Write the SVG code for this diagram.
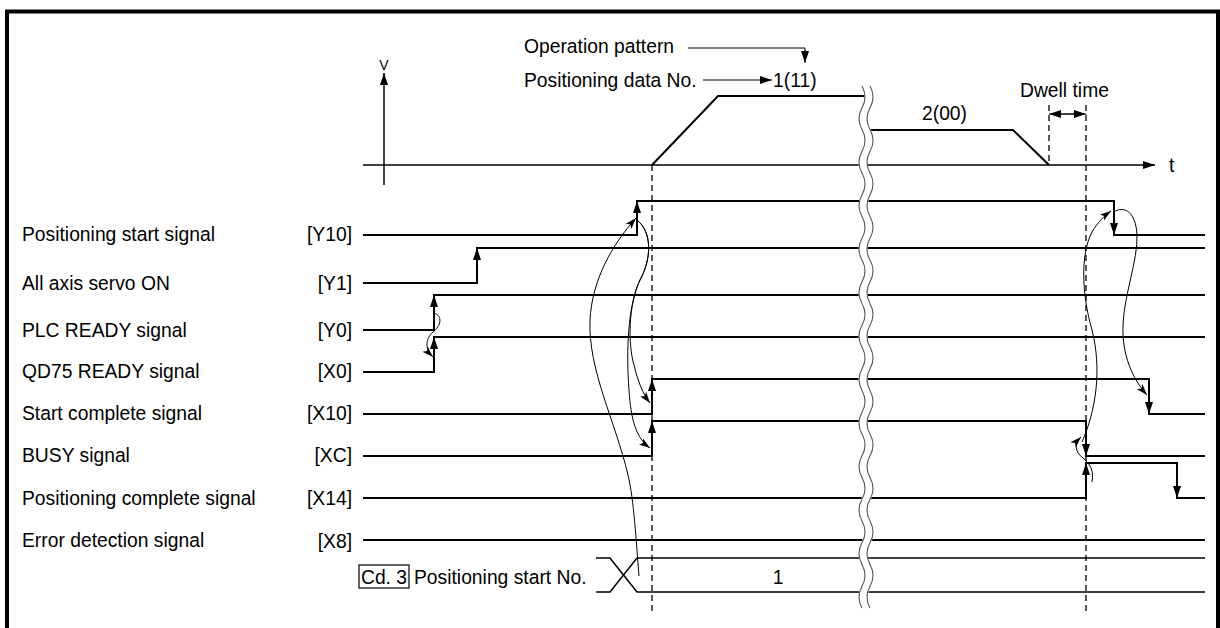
<svg xmlns="http://www.w3.org/2000/svg" width="1220" height="628" viewBox="0 0 1220 628">
<style>
text{font-family:"Liberation Sans",Arial,sans-serif;font-size:19.3px;fill:#000}
.sig{fill:none;stroke:#000;stroke-width:2}
.edge{fill:none;stroke:#000;stroke-width:2;marker-end:url(#ah)}
.thin{fill:none;stroke:#000;stroke-width:1}
.cur{fill:none;stroke:#000;stroke-width:1;marker-end:url(#ah2)}
.dash{fill:none;stroke:#000;stroke-width:1.3;stroke-dasharray:6 4}
.wave{fill:none;stroke:#555;stroke-width:1.1}
</style>
<defs>
<marker id="ah" viewBox="0 0 12 8" refX="12" refY="4" markerWidth="12" markerHeight="8" markerUnits="userSpaceOnUse" orient="auto"><path d="M0,0 L12,4 L0,8 Z" fill="#000"/></marker>
<marker id="ah2" viewBox="0 0 12 8" refX="12" refY="4" markerWidth="12" markerHeight="7.5" markerUnits="userSpaceOnUse" orient="auto"><path d="M0,0 L12,4 L0,8 L3,4 Z" fill="#000"/></marker>
</defs>
<rect width="1220" height="628" fill="#fff"/>
<g id="frame"><rect x="7" y="11.5" width="1211" height="630" fill="none" stroke="#000" stroke-width="4"/></g>

<g id="velocity-graph">
<path class="edge" style="stroke-width:1.5" d="M384,185 V73"/>
<text x="384" y="70" text-anchor="middle" style="font-size:14px">V</text>
<path class="edge" style="stroke-width:1.5" d="M363,165 H1155"/>
<text x="1169" y="172">t</text>
<path class="sig" d="M652,165 L718,96 H866"/>
<path class="sig" d="M866,130 H1013 L1049,165"/>
<text x="524" y="53">Operation pattern</text>
<path class="thin" d="M688,48 H805 V52"/>
<path class="edge" style="stroke-width:1" d="M805,50 V63"/>
<text x="524" y="87">Positioning data No.</text>
<path class="edge" style="stroke-width:1" d="M703,80 H772"/>
<text x="773" y="87">1(11)</text>
<text x="922" y="120">2(00)</text>
<text x="1020" y="97">Dwell time</text>
<path class="dash" d="M1049,105 V165"/>
<path class="thin" d="M1060,114 H1075"/>
<path class="edge" style="stroke-width:1" d="M1067,114 H1049"/>
<path class="edge" style="stroke-width:1" d="M1067,114 H1086"/>
</g>

<g id="dashes">
<path class="dash" d="M652,165 V612"/>
<path class="dash" d="M1086,105 V612"/>
</g>

<g id="sig-Y10">
<text x="22" y="241">Positioning start signal</text>
<text x="352" y="241" text-anchor="end">[Y10]</text>
<path class="sig" d="M363,235 H637 V201 H1114 V235 H1205"/>
<path class="edge" d="M637,225 V201"/>
<path class="edge" d="M1114,211 V235"/>
</g>
<g id="sig-Y1">
<text x="22" y="290">All axis servo ON</text>
<text x="352" y="290" text-anchor="end">[Y1]</text>
<path class="sig" d="M363,283 H477 V248 H1205"/>
<path class="edge" d="M477,272 V248"/>
</g>
<g id="sig-Y0">
<text x="22" y="337">PLC READY signal</text>
<text x="352" y="337" text-anchor="end">[Y0]</text>
<path class="sig" d="M363,330 H434 V295 H1205"/>
<path class="edge" d="M434,319 V295"/>
</g>
<g id="sig-X0">
<text x="22" y="378">QD75 READY signal</text>
<text x="352" y="378" text-anchor="end">[X0]</text>
<path class="sig" d="M363,372 H434 V337 H1205"/>
<path class="edge" d="M434,361 V337"/>
</g>
<g id="sig-X10">
<text x="22" y="420">Start complete signal</text>
<text x="352" y="420" text-anchor="end">[X10]</text>
<path class="sig" d="M363,414 H652 V379 H1149 V414 H1205"/>
<path class="edge" d="M652,403 V379"/>
<path class="edge" d="M1149,390 V414"/>
</g>
<g id="sig-XC">
<text x="22" y="462">BUSY signal</text>
<text x="352" y="462" text-anchor="end">[XC]</text>
<path class="sig" d="M363,456 H652 V421 H1086 V456 H1205"/>
<path class="edge" d="M652,445 V421"/>
<path class="edge" d="M1086,432 V456"/>
</g>
<g id="sig-X14">
<text x="22" y="505">Positioning complete signal</text>
<text x="352" y="505" text-anchor="end">[X14]</text>
<path class="sig" d="M363,498 H1086 V463 H1177 V498 H1205"/>
<path class="edge" d="M1086,487 V463"/>
<path class="edge" d="M1177,474 V498"/>
</g>
<g id="sig-X8">
<text x="22" y="547">Error detection signal</text>
<text x="352" y="548" text-anchor="end">[X8]</text>
<path class="sig" d="M363,540 H1205"/>
</g>
<g id="sig-Cd3">
<rect x="359" y="565" width="50" height="23" fill="none" stroke="#000" stroke-width="1.2"/>
<text x="384" y="584" text-anchor="middle">Cd. 3</text>
<text x="414" y="584">Positioning start No.</text>
<path class="thin" style="stroke-width:1.5" d="M596,558 H610 L637,592 H1205"/>
<path class="thin" style="stroke-width:1.5" d="M596,592 H610 L637,558 H1205"/>
<text x="778" y="584" text-anchor="middle">1</text>
</g>

<g id="connectors">
<path class="cur" d="M434,313 C443,316 441,326 433,332 C426,338 424,348 433,357"/>
<path class="cur" d="M639,576 C636,540 634,500 628,475 C615,420 588,370 590,320 C592,280 612,245 636,218"/>
<path class="cur" d="M637,220 C652,232 652,258 640,280 C628,305 628,345 634,365 C638,382 643,394 650,403"/>
<path class="cur" d="M637,220 C652,232 652,258 640,280 C628,305 626,350 629,390 C631,420 636,438 650,448"/>
<path class="cur" d="M1092,482 C1094,470 1090,464 1083,458 C1075,452 1074,444 1081,437"/>
<path class="cur" d="M1082,442 C1096,410 1102,370 1092,330 C1082,295 1080,255 1092,232 C1098,222 1104,216 1111,211"/>
<path class="cur" d="M1114,212 C1124,205 1136,212 1137,235 C1138,260 1124,295 1123,325 C1122,355 1132,378 1147,395"/>
</g>

<g id="break">
<path fill="none" stroke="#fff" stroke-width="9" d="M866,86 q6,10.875 0,21.75 t0,21.75 t0,21.75 t0,21.75 t0,21.75 t0,21.75 t0,21.75 t0,21.75 t0,21.75 t0,21.75 t0,21.75 t0,21.75 t0,21.75 t0,21.75 t0,21.75 t0,21.75 t0,21.75 t0,21.75 t0,21.75 t0,21.75 t0,21.75 t0,21.75 t0,21.75 t0,21.75"/>
<path class="wave" d="M862,86 q6,10.875 0,21.75 t0,21.75 t0,21.75 t0,21.75 t0,21.75 t0,21.75 t0,21.75 t0,21.75 t0,21.75 t0,21.75 t0,21.75 t0,21.75 t0,21.75 t0,21.75 t0,21.75 t0,21.75 t0,21.75 t0,21.75 t0,21.75 t0,21.75 t0,21.75 t0,21.75 t0,21.75 t0,21.75"/>
<path class="wave" d="M870,86 q6,10.875 0,21.75 t0,21.75 t0,21.75 t0,21.75 t0,21.75 t0,21.75 t0,21.75 t0,21.75 t0,21.75 t0,21.75 t0,21.75 t0,21.75 t0,21.75 t0,21.75 t0,21.75 t0,21.75 t0,21.75 t0,21.75 t0,21.75 t0,21.75 t0,21.75 t0,21.75 t0,21.75 t0,21.75"/>
</g>
</svg>
